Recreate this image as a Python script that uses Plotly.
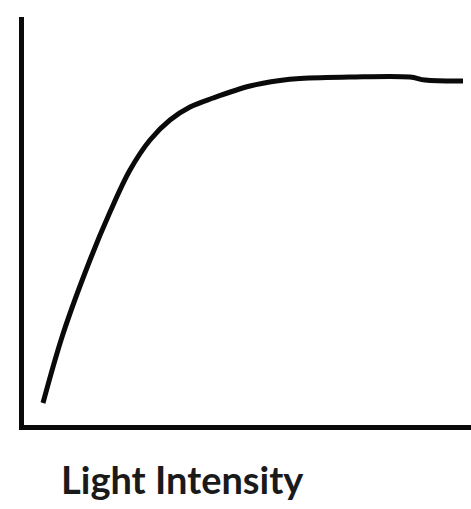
import plotly.graph_objects as go

# Light intensity (arbitrary units) vs rate (arbitrary units)
intensity = [4.89, 9.33, 15.33, 19.78, 24.22, 28.67, 33.11, 37.56, 42.67, 50.89, 57.56, 62.0, 73.11, 86.44, 89.78, 98.22]
rate = [5.85, 22.68, 40.73, 52.44, 62.68, 70.0, 74.88, 78.05, 80.24, 83.17, 84.51, 85.0, 85.37, 85.37, 84.63, 84.39]
x_label = "Light Intensity"

fig = go.Figure()
fig.add_trace(go.Scatter(
    x=intensity, y=rate, mode="lines",
    line=dict(color="#0a0a0a", width=5, shape="spline", smoothing=1.0),
    hoverinfo="skip", showlegend=False,
))

fig.update_layout(
    width=471, height=509,
    margin=dict(l=24, r=0, t=17, b=84, autoexpand=False),
    paper_bgcolor="white", plot_bgcolor="white",
    hovermode=False,
    xaxis=dict(range=[0.667, 100], showline=True, linecolor="#0a0a0a", linewidth=5,
               showgrid=False, zeroline=False, showticklabels=False, ticks=""),
    yaxis=dict(range=[0.49, 100], showline=True, linecolor="#0a0a0a", linewidth=5,
               showgrid=False, zeroline=False, showticklabels=False, ticks=""),
    annotations=[dict(
        text="<b>" + x_label + "</b>", xref="paper", yref="paper",
        x=(59 - 24) / 447, y=(425 - 479) / 408, xanchor="left", yanchor="middle",
        showarrow=False, font=dict(family="Lato", size=38, color="#1a1a1a"),
    )],
)

fig.write_html(
    "out.html",
    config={"displayModeBar": False, "staticPlot": True},
    post_script="document.body.style.margin='0';document.body.style.overflow='hidden';",
)
